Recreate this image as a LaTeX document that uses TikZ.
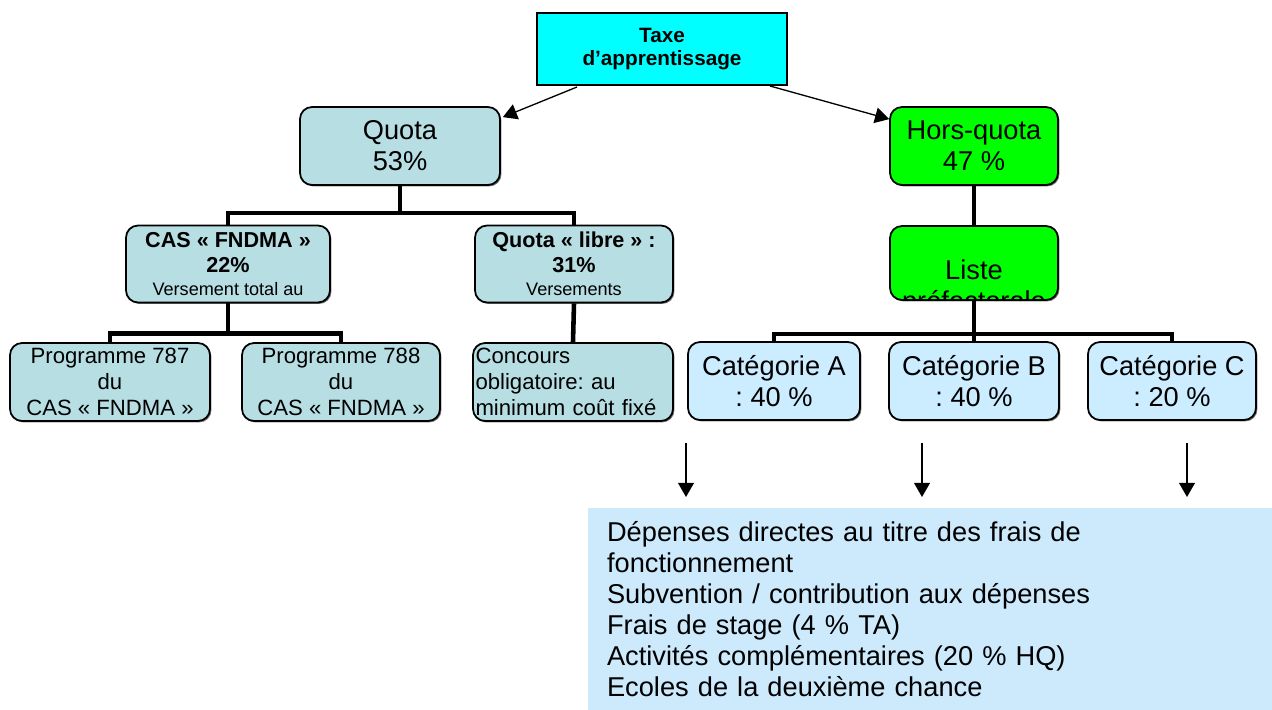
\documentclass[tikz,border=0pt]{standalone}
\usepackage{fontspec}
\setmainfont{Liberation Sans}
\usetikzlibrary{positioning, calc, shadows, arrows.meta}

\definecolor{taxecyan}{RGB}{0,255,255}
\definecolor{quotablue}{RGB}{183,222,227}
\definecolor{hqgreen}{RGB}{0,255,0}
\definecolor{catblue}{RGB}{204,236,255}
\definecolor{depblue}{RGB}{204,234,252}

\newcommand{\bigtxt}{\fontsize{15.5}{17.6}\selectfont}
\newcommand{\midtxt}{\fontsize{12.6}{14.7}\selectfont}
\newcommand{\headtxt}{\fontsize{12.3}{14.2}\selectfont\bfseries}
\newcommand{\smalltxt}{\fontsize{10.3}{12}\selectfont}

\begin{document}
\frenchspacing
\begin{tikzpicture}[
        x=0.02cm, y=-0.02cm,
        shade/.style={drop shadow={shadow xshift=0.8pt, shadow yshift=-0.8pt, fill=black!70, opacity=0.8}},
        taxebox/.style={rectangle, draw, line width=1pt, fill=taxecyan, shade, minimum width=5.0cm, minimum height=1.44cm, align=center, font=\fontsize{11.8}{13}\selectfont\bfseries},
        quotabox/.style={rectangle, draw, line width=1pt, rounded corners=0.24cm, fill=quotablue, shade, minimum height=1.56cm, inner sep=1pt, align=center},
        hqbox/.style={rectangle, draw, line width=1pt, rounded corners=0.24cm, fill=hqgreen, shade, minimum width=3.36cm, inner sep=1pt, align=center, font=\bigtxt},
        catbox/.style={rectangle, draw, line width=1pt, rounded corners=0.24cm, fill=catblue, shade, minimum height=1.56cm, inner sep=1pt, align=center, font=\bigtxt},
        depbox/.style={rectangle, fill=depblue, minimum height=4.04cm, text width=12.92cm, inner xsep=0.38cm, align=left, font=\bigtxt},
        orgline/.style={line width=2.6pt},
        arrow/.style={-{Triangle[length=8pt, width=9pt]}, line width=0.75pt}
    ]

    \useasboundingbox (0,0) rectangle (1272,710);

    \node[taxebox] (taxe) at (662,49) {Taxe\\d’apprentissage};

    \node[quotabox, minimum width=4.0cm, font=\bigtxt] (quota) at (400,146) {Quota\\53\%};
    \node[hqbox, minimum height=1.56cm] (hq) at (974,146) {Hors-quota\\47 \%};

    \node[hqbox, minimum height=1.48cm, path picture={
        \node[font=\bigtxt, align=center] at ($(path picture bounding box.center)+(0,25)$) {Liste\\préfectorale};
    }] (liste) at (974,263) {};

    \node[quotabox, minimum width=4.08cm, minimum height=1.54cm, font=\headtxt] (cas) at (228,264)
        {CAS « FNDMA »\\22\%\\[-1pt]{\smalltxt\mdseries Versement total au}};
    \node[quotabox, minimum width=3.96cm, minimum height=1.54cm, font=\headtxt] (libre) at (574,264)
        {Quota « libre » :\\31\%\\[-1pt]{\smalltxt\mdseries Versements}};

    \node[quotabox, minimum width=4.0cm, font=\midtxt] (p787) at (110,382) {Programme 787\\du\\CAS « FNDMA »};
    \node[quotabox, minimum width=3.96cm, font=\midtxt] (p788) at (341,382) {Programme 788\\du\\CAS « FNDMA »};
    \node[quotabox, minimum width=4.0cm, text width=3.9cm, align=left, font=\midtxt] (concours) at (573,382)
        {Concours\\obligatoire: au\\minimum coût fixé};

    \node[catbox, minimum width=3.44cm] (cata) at (774,381) {Catégorie A\\: 40 \%};
    \node[catbox, minimum width=3.40cm] (catb) at (974,381) {Catégorie B\\: 40 \%};
    \node[catbox, minimum width=3.36cm] (catc) at (1172,381) {Catégorie C\\: 20 \%};

    \node[depbox] (dep) at (930,609) {Dépenses directes au titre des frais de\\fonctionnement\\Subvention / contribution aux dépenses\\Frais de stage (4 \% TA)\\Activités complémentaires (20 \% HQ)\\Ecoles de la deuxième chance};

    \coordinate (tl) at (577,87);
    \coordinate (tr) at (770,86);
    \coordinate (a1) at (686,443);
    \coordinate (a2) at (922,443);
    \coordinate (a3) at (1187,443);
    \coordinate (b1) at (686,497);
    \coordinate (b2) at (922,497);
    \coordinate (b3) at (1187,497);

    \draw[arrow] (tl) -- ($(quota.north east)+(2,11)$);
    \draw[arrow] (tr) -- ($(hq.north west)+(0,13)$);

    \draw[orgline] (quota.south) -- ++(0,27) coordinate (qj);
    \draw[orgline] (cas.north) |- (qj) -| (libre.north);
    \draw[orgline] (cas.south) -- ++(0,30) coordinate (cj);
    \draw[orgline] (p787.north) |- (cj) -| (p788.north);
    \draw[orgline] (libre.south) -- (concours.north);
    \draw[orgline] (hq.south) -- (liste.north);
    \draw[orgline] (liste.south) -- ++(0,33) coordinate (lj);
    \draw[orgline] (cata.north) |- (lj) -| (catc.north);
    \draw[orgline] (lj) -- (catb.north);

    \draw[arrow] (a1) -- (b1);
    \draw[arrow] (a2) -- (b2);
    \draw[arrow] (a3) -- (b3);

\end{tikzpicture}
\end{document}
